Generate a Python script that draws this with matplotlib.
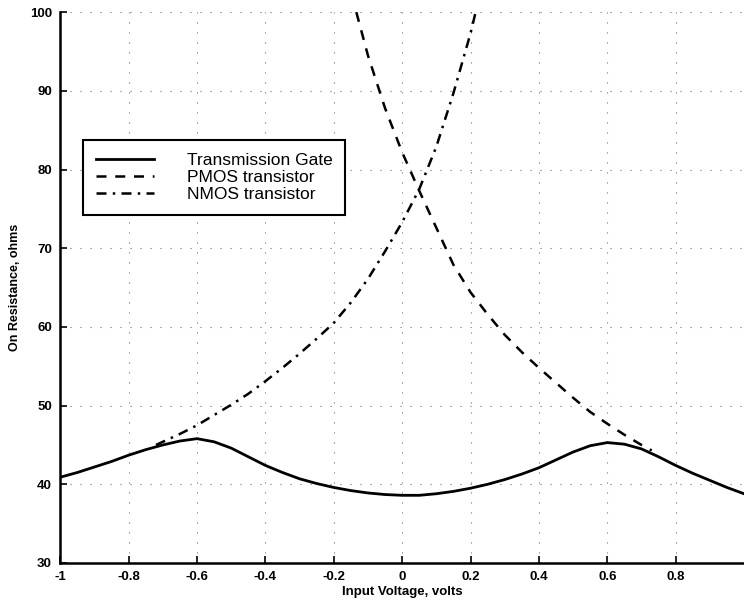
import numpy as np
import matplotlib
matplotlib.use('Agg')
import matplotlib.pyplot as plt

plt.rcParams['font.family'] = ['Liberation Sans', 'DejaVu Sans']

# Transmission gate on-resistance (ohms)
tg_v = [-1.0, -0.95, -0.9, -0.85, -0.8, -0.75, -0.7, -0.65, -0.6, -0.55,
        -0.5, -0.45, -0.4, -0.35, -0.3, -0.25, -0.2, -0.15, -0.1, -0.05,
        0.0, 0.05, 0.1, 0.15, 0.2, 0.25, 0.3, 0.35, 0.4, 0.45,
        0.5, 0.55, 0.6, 0.65, 0.7, 0.75, 0.8, 0.85, 0.9, 0.95, 1.0]
tg_r = [40.9, 41.5, 42.2, 42.9, 43.7, 44.4, 45.0, 45.5, 45.8, 45.4,
        44.6, 43.5, 42.4, 41.5, 40.7, 40.1, 39.6, 39.2, 38.9, 38.7,
        38.6, 38.6, 38.8, 39.1, 39.5, 40.0, 40.6, 41.3, 42.1, 43.1,
        44.1, 44.9, 45.3, 45.1, 44.5, 43.5, 42.4, 41.4, 40.5, 39.6, 38.8]

# PMOS transistor alone
pmos_v = [-0.134, -0.1, -0.05, 0.0, 0.05, 0.1, 0.15, 0.2, 0.25, 0.3, 0.35,
          0.4, 0.45, 0.5, 0.55, 0.6, 0.65, 0.7, 0.73]
pmos_r = [100.0, 94.5, 87.8, 82.2, 77.3, 72.6, 67.9, 64.4, 61.6, 59.0, 56.8,
          54.8, 52.9, 51.0, 49.2, 47.7, 46.3, 45.0, 44.3]

# NMOS transistor alone
nmos_v = [-0.72, -0.7, -0.65, -0.6, -0.55, -0.5, -0.45, -0.4, -0.35, -0.3,
          -0.25, -0.2, -0.15, -0.1, -0.05, 0.0, 0.05, 0.1, 0.15, 0.2, 0.215]
nmos_r = [45.0, 45.4, 46.4, 47.5, 48.8, 50.1, 51.5, 53.1, 54.8, 56.6,
          58.5, 60.5, 63.1, 66.1, 69.6, 73.3, 77.5, 82.9, 89.7, 97.3, 100.0]

xticks = [-1, -0.8, -0.6, -0.4, -0.2, 0, 0.2, 0.4, 0.6, 0.8]
xticklabels = ['-1', '-0.8', '-0.6', '-0.4', '-0.2', '0', '0.2', '0.4', '0.6', '0.8']
yticks = [30, 40, 50, 60, 70, 80, 90, 100]

fig = plt.figure(figsize=(7.44, 6.07), dpi=100)
ax = fig.add_axes([0.081, 0.0725, 0.919, 0.9075])

ax.plot(tg_v, tg_r, 'k-', lw=2.0, label='Transmission Gate')
ax.plot(pmos_v, pmos_r, 'k', ls=(0, (4, 3.5)), lw=1.8, label='PMOS transistor')
ax.plot(nmos_v, nmos_r, 'k', ls=(0, (4, 2.5, 1, 2.5)), lw=1.8, label='NMOS transistor')

ax.set_xlim(-1, 1)
ax.set_ylim(30, 100)
ax.set_xticks(xticks)
ax.set_xticklabels(xticklabels)
ax.set_yticks(yticks)
ax.tick_params(direction='in', length=5, width=1.2, labelsize=9.5, pad=6)
for lab in ax.get_xticklabels() + ax.get_yticklabels():
    lab.set_fontweight('bold')

ax.grid(True, ls=(0, (1, 8)), color='k', lw=0.8, alpha=0.55)
for s in ['top', 'right']:
    ax.spines[s].set_visible(False)
for s in ['left', 'bottom']:
    ax.spines[s].set_linewidth(1.8)

ax.set_xlabel('Input Voltage, volts', fontsize=9.5, fontweight='bold', labelpad=2)
ax.set_ylabel('On Resistance, ohms', fontsize=9, fontweight='bold', labelpad=6)

leg = ax.legend(loc='upper left', bbox_to_anchor=(0.0336, 0.768), borderaxespad=0,
                fontsize=12.5, handlelength=3.3, handletextpad=1.9, labelspacing=0.1,
                borderpad=0.75, fancybox=False, framealpha=1, edgecolor='k')
leg.get_frame().set_linewidth(1.5)

fig.savefig('out.png', dpi=100)
